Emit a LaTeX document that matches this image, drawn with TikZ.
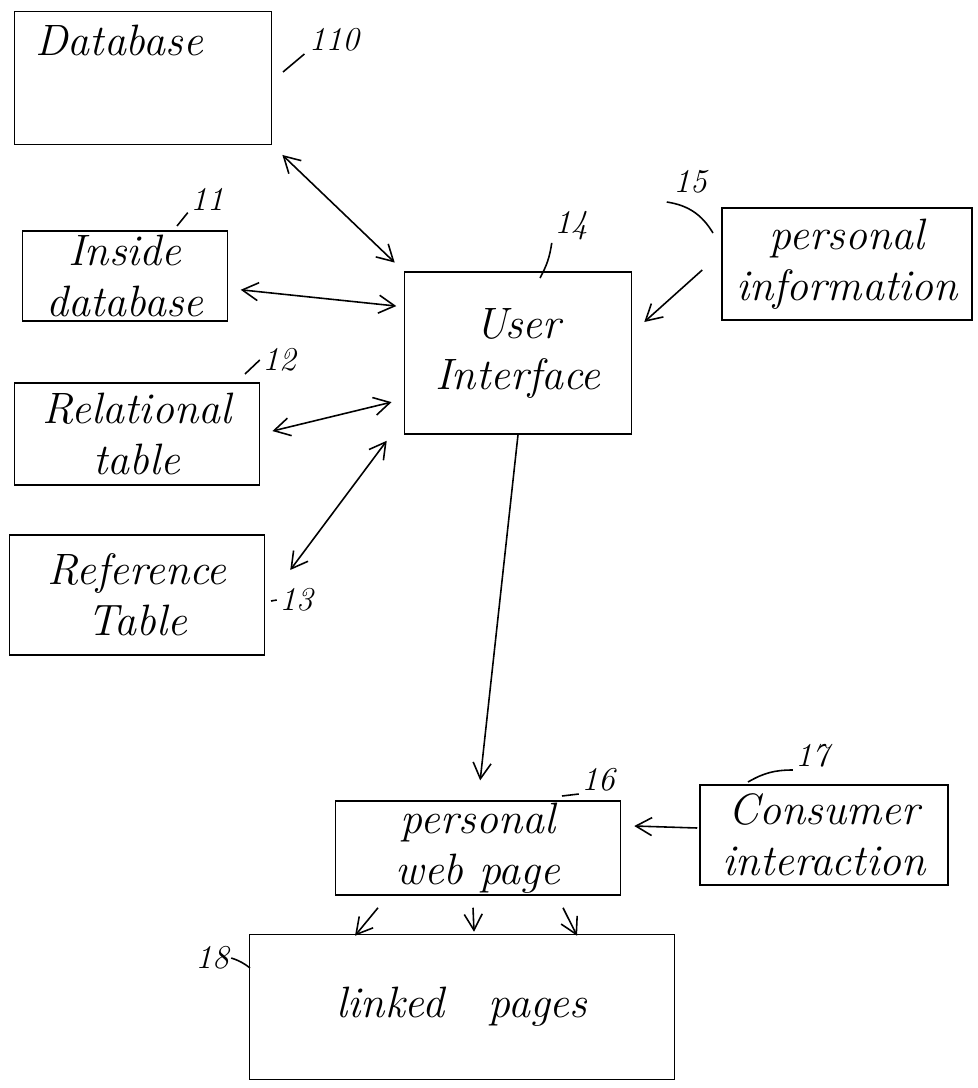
\documentclass[tikz,border=0pt]{standalone}
\usepackage{tikz}
\usetikzlibrary{arrows.meta}

\begin{document}
\begin{tikzpicture}[x=0.02cm, y=-0.02cm, line width=0.9pt,
    >={Straight Barb[length=3.2mm,width=3.6mm]},
    block/.style={draw, rectangle, align=center, inner sep=1pt, font=\fontsize{25}{29}\selectfont\itshape},
    refnum/.style={font=\fontsize{19}{22}\selectfont\itshape, inner sep=1pt}]
    \useasboundingbox (0,0) rectangle (977,1088);

    \node[block, minimum width=5.14cm, minimum height=2.66cm] (database) at (143,78) {};
    \node[anchor=north west, font=\fontsize{25}{29}\selectfont\itshape] (database_text) at ([shift={(15,8)}]database.north west) {Database};
         \node[refnum] (num_database) at (334,40) {110};

    \node[block, minimum width=4.1cm, minimum height=1.8cm] (inside_database) at (125,276) {Inside\\database};
         \node[refnum] (num_inside_database) at (207,199) {11};

    \node[block, minimum width=4.9cm, minimum height=2.04cm] (relational_table) at (137,434) {Relational\\table};
         \node[refnum] (num_relational_table) at (279,360) {12};

    \node[block, minimum width=5.1cm, minimum height=2.4cm] (reference_table) at (137,595) {Reference\\Table};
         \node[refnum] (num_reference_table) at (296,600) {13};

    \node[block, minimum width=4.54cm, minimum height=3.24cm] (user_interface) at (518,353) {User\\Interface};
         \node[refnum] (num_user_interface) at (571,226) {14};

    \node[block, minimum width=5cm, minimum height=2.24cm] (personal_information) at (847,264) {personal\\information};
         \node[refnum] (num_personal_information) at (690,182) {15};

    \node[block, minimum width=5.7cm, minimum height=1.8cm] (personal_web_page) at (478,848) {personal\\web page};
         \node[refnum] (num_personal_web_page) at (598,780) {16};

    \node[block, minimum width=4.96cm, minimum height=2cm] (consumer_interaction) at (824,835) {Consumer\\interaction};
         \node[refnum] (num_consumer_interaction) at (812,756) {17};

    \node[block, minimum width=8.5cm, minimum height=2.9cm] (linked_pages) at (462,1007) {linked\quad pages};
         \node[refnum] (num_linked_pages) at (212,958) {18};

    % leader lines
    \coordinate (lead_database) at (283,72);
    \coordinate (lead_inside_database) at (177,226);
    \coordinate (lead_relational_table) at (245,374);
    \coordinate (lead_reference_table) at (271,601);
    \coordinate (lead_user_interface) at (540,278);
    \coordinate (lead_personal_information) at (713,233);
    \coordinate (lead_personal_web_page) at (562,796);
    \coordinate (lead_consumer_interaction) at (748,782);
    \coordinate (lead_linked_pages) at (250,968);

    \draw (lead_database) -- ([shift={(-2,14)}]num_database.west);
    \draw (lead_inside_database) -- (num_inside_database.south west);
    \draw (lead_relational_table) -- (num_relational_table.west);
    \draw (lead_reference_table) -- (num_reference_table.west);
    \draw (lead_user_interface) to[bend right=10] (num_user_interface.south west);
    \draw ([shift={(-4,6)}]num_personal_information.south west) to[bend left=25] (lead_personal_information);
    \draw (lead_personal_web_page) -- (num_personal_web_page.south west);
    \draw (lead_consumer_interaction) to[bend left=15] (num_consumer_interaction.south west);
    \draw (num_linked_pages.east) to[bend left=10] (lead_linked_pages);

    % connectors
    \path (database.south east) edge[<->, shorten <=0.28cm, shorten >=0.25cm] (user_interface.north west);
    \path ([yshift=-0.25cm]inside_database.east) edge[<->, shorten <=0.25cm, shorten >=0.15cm] (user_interface.158);
    \path (relational_table.east) edge[<->, shorten <=0.25cm, shorten >=0.25cm] (user_interface.202);
    \path ([shift={(25,-25)}]reference_table.east) edge[<->] ([shift={(-17,6)}]user_interface.south west);
    \path ([shift={(-19,6)}]personal_information.west) edge[->] ([shift={(12,-31)}]user_interface.east);
    \path (user_interface.south) edge[->, shorten >=0.4cm] (personal_web_page.north);
    \path ([shift={(-2,-7)}]consumer_interaction.west) edge[->] ([shift={(13,-22)}]personal_web_page.east);

    \path ([shift={(-100,12)}]personal_web_page.south) edge[->] ([shift={(-107,2)}]linked_pages.north);
    \path ([shift={(-5,12)}]personal_web_page.south) edge[->] ([shift={(12,-2)}]linked_pages.north);
    \path ([shift={(85,12)}]personal_web_page.south) edge[->] ([shift={(115,2)}]linked_pages.north);
\end{tikzpicture}
\end{document}
